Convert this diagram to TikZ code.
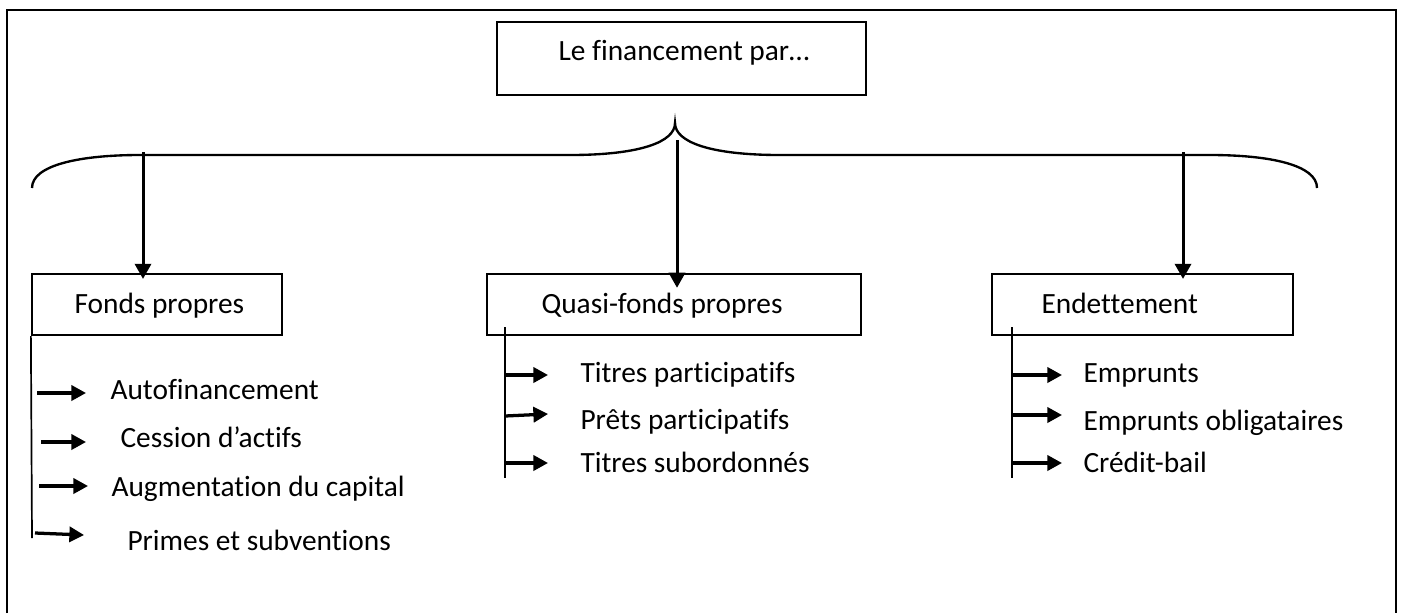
\documentclass[tikz,border=0pt]{standalone}
\usepackage{fontspec}
\setmainfont{Carlito}[Ligatures=NoCommon]
\usepackage{tikz}
\usetikzlibrary{arrows.meta, positioning}
\newcommand{\pxu}{0.383pt}
\tikzset{
    box/.style={
        rectangle,
        draw=black,
        line width=0.85pt,
        inner sep=0pt
    },
    boxtext/.style={
        font=\fontsize{11.25}{13.5}\selectfont,
        inner sep=0pt,
        anchor=base west
    },
    itemtext/.style={
        boxtext
    },
    branch/.style={
        draw=black,
        line width=1.15pt,
        -{Triangle[length=5.8pt,width=6.2pt]}
    },
    subarrow/.style={
        draw=black,
        line width=1.25pt,
        -{Triangle[length=5.6pt,width=5.8pt]}
    },
    stem/.style={
        draw=black,
        line width=0.65pt
    },
    bracket/.style={
        draw=black,
        line width=0.9pt
    },
    framing/.style={
        draw=black,
        line width=0.85pt
    }
}
\begin{document}
\begin{tikzpicture}[x=0.383pt, y=-0.383pt]
\useasboundingbox (0,0) rectangle (1401,613);

% Outer frame (open at the bottom)
\draw[framing] (7,613) |- (1396,10) -- (1396,613);

% Top box
\node[box, minimum width={369*\pxu}, minimum height={73*\pxu}] (top) at (681.5,58.5) {};
\node[boxtext] (toptext) at (558,60) {Le financement par…};

% Brace
\coordinate (braceL) at (32,188);
\coordinate (tip) at (675,123);
\coordinate (braceR) at (1317,188);
\draw[bracket] (braceL) .. controls (32,165) and (80,155) .. (140,155) -- (570,155)
    .. controls (640,155) and (675,142) .. (tip)
    .. controls (675,142) and (710,155) .. (780,155) -- (1210,155)
    .. controls (1270,155) and (1317,165) .. (braceR);

% Category boxes
\node[box, minimum width={250*\pxu}, minimum height={61*\pxu}] (fp) at (157,304.5) {};
\node[boxtext] (fptext) at (74,313) {Fonds propres};
\node[box, minimum width={374*\pxu}, minimum height={61*\pxu}] (qfp) at (674,304.5) {};
\node[boxtext] (qfptext) at (541,313) {Quasi-fonds propres};
\node[box, minimum width={301*\pxu}, minimum height={61*\pxu}] (endt) at (1142.5,304.5) {};
\node[boxtext] (endttext) at (1041,313) {Endettement};

% Branches from the brace
\coordinate (b1) at (143,152);
\coordinate (b2) at (677,140);
\coordinate (b3) at (1183,152);
\draw[branch, shorten >=-2.3pt] (b1) -- (b1 |- fp.north);
\draw[branch, shorten >=-5.7pt] (b2) -- (b2 |- qfp.north);
\draw[branch, shorten >=-2.3pt] (b3) -- (b3 |- endt.north);

% Stems
\coordinate (fpbot) at (32,538);
\coordinate (qfptop) at (505,327);
\coordinate (qfpbot) at (505,478);
\coordinate (endttop) at (1012,327);
\coordinate (endtbot) at (1012,478);
\draw[stem] (fp.south west) -- (fpbot);
\draw[stem] (qfptop) -- (qfpbot);
\draw[stem] (endttop) -- (endtbot);

% Fonds propres items
\node[itemtext] (autofin) at (110,399) {Autofinancement};
\node[itemtext] (cession) at (120,447) {Cession d’actifs};
\node[itemtext] (augcap) at (111,496) {Augmentation du capital};
\node[itemtext] (primes) at (127,550) {Primes et subventions};
\coordinate (fp1) at (37,393);
\coordinate (fp2) at (41,442);
\coordinate (fp3) at (39,486);
\coordinate (fp4) at (35,533);
\draw[subarrow] (fp1) -- ++(49,0);
\draw[subarrow] (fp2) -- ++(45,0);
\draw[subarrow] (fp3) -- ++(49,0);
\draw[subarrow] (fp4) -- ++(49,2);

% Quasi-fonds propres items
\node[itemtext] (titpart) at (580,382) {Titres participatifs};
\node[itemtext] (pretpart) at (580,429) {Prêts participatifs};
\node[itemtext] (titsub) at (580,472) {Titres subordonnés};
\coordinate (qfp1) at (505,375);
\coordinate (qfp2) at (505,416);
\coordinate (qfp3) at (505,463);
\draw[subarrow] (qfp1) -- ++(43,0);
\draw[subarrow] (qfp2) -- ++(43,-2);
\draw[subarrow] (qfp3) -- ++(43,0);

% Endettement items
\node[itemtext] (emprunts) at (1083,382) {Emprunts};
\node[itemtext] (empobl) at (1083,430) {Emprunts obligataires};
\node[itemtext] (credit) at (1083,472) {Crédit-bail};
\coordinate (endt1) at (1012,375);
\coordinate (endt2) at (1012,415);
\coordinate (endt3) at (1012,463);
\draw[subarrow] (endt1) -- ++(50,0);
\draw[subarrow] (endt2) -- ++(50,0);
\draw[subarrow] (endt3) -- ++(50,0);

\end{tikzpicture}
\end{document}
